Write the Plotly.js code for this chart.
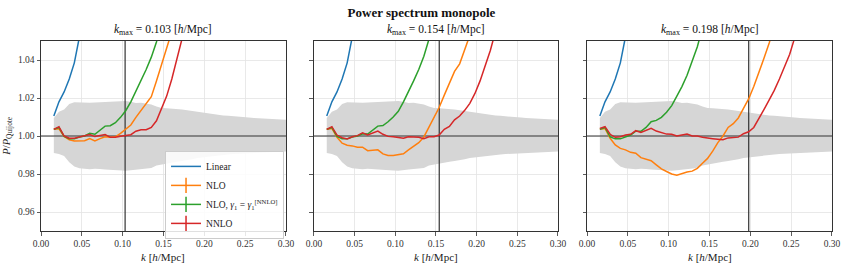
<!DOCTYPE html>
<html>
<head>
<meta charset="utf-8">
<script src="https://cdn.plot.ly/plotly-3.0.1.min.js"></script>
<style>html,body{margin:0;padding:0;background:#fff}#chart{width:843px;height:264px}</style>
</head>
<body>
<div id="chart"></div>
<script>
// k bins [h/Mpc]
const k = [0.0157,0.0220,0.0283,0.0346,0.0408,0.0471,0.0534,0.0597,0.0660,0.0723,0.0785,0.0848,0.0911,0.0974,0.1037,0.1100,0.1162,0.1225,0.1288,0.1351,0.1414,0.1476,0.1539,0.1602,0.1665,0.1728,0.1791,0.1853,0.1916,0.1979,0.2042,0.2105,0.2168,0.2231,0.2293,0.2356,0.2419,0.2482,0.2545,0.2608,0.2670,0.2733,0.2796,0.2859,0.2922,0.2985,0.3047];

// Quijote error band
const bandUpper = [1.0095,1.0128,1.0140,1.0168,1.0178,1.0176,1.0174,1.0175,1.0176,1.0177,1.0178,1.0180,1.0181,1.0183,1.0184,1.0180,1.0174,1.0175,1.0170,1.0166,1.0155,1.0148,1.0146,1.0145,1.0143,1.0140,1.0136,1.0132,1.0127,1.0122,1.0118,1.0115,1.0112,1.0108,1.0106,1.0103,1.0101,1.0099,1.0097,1.0095,1.0093,1.0092,1.0090,1.0089,1.0087,1.0085,1.0084];
const bandLower = [0.9910,0.9905,0.9895,0.9862,0.9840,0.9830,0.9826,0.9825,0.9828,0.9826,0.9824,0.9822,0.9820,0.9818,0.9817,0.9820,0.9824,0.9826,0.9828,0.9832,0.9845,0.9852,0.9855,0.9860,0.9864,0.9868,0.9872,0.9878,0.9884,0.9888,0.9892,0.9895,0.9898,0.9900,0.9903,0.9905,0.9907,0.9909,0.9911,0.9913,0.9914,0.9915,0.9916,0.9917,0.9918,0.9919,0.9920];

// Linear (same in all panels)
const linear = [1.0105,1.0180,1.0232,1.0300,1.0385,1.0510,1.0660];

// Panel 1: kmax = 0.103
const nlo1  = [1.0035,1.0038,0.9997,0.9980,0.9974,0.9975,0.9975,0.9986,0.9974,0.9986,0.9996,0.9993,0.9996,1.0014,1.0035,1.0058,1.0098,1.0133,1.0172,1.0207,1.0290,1.0380,1.0460,1.0550];
const gam1  = [1.0035,1.0045,0.9998,0.9985,0.9985,0.9995,1.0000,1.0014,1.0009,1.0032,1.0052,1.0054,1.0070,1.0098,1.0133,1.0180,1.0235,1.0290,1.0350,1.0415,1.0495,1.0600];
const nnlo1 = [1.0035,1.0049,1.0000,0.9988,0.9988,0.9995,1.0000,1.0008,0.9997,1.0003,1.0008,0.9993,0.9993,0.9999,1.0003,1.0007,1.0025,1.0033,1.0033,1.0045,1.0080,1.0140,1.0210,1.0300,1.0400,1.0510,1.0620];

// Panel 2: kmax = 0.154
const nlo2  = [1.0035,1.0040,0.9993,0.9962,0.9951,0.9948,0.9941,0.9941,0.9923,0.9927,0.9927,0.9906,0.9897,0.9897,0.9902,0.9906,0.9927,0.9948,0.9965,0.9995,1.0045,1.0098,1.0150,1.0215,1.0280,1.0340,1.0380,1.0450,1.0530,1.0620];
const gam2  = [1.0035,1.0045,0.9998,0.9985,0.9985,0.9995,1.0000,1.0012,1.0010,1.0030,1.0052,1.0055,1.0075,1.0100,1.0130,1.0180,1.0233,1.0290,1.0350,1.0420,1.0510,1.0620];
const nnlo2 = [1.0035,1.0049,1.0005,0.9991,0.9984,0.9996,1.0002,1.0017,1.0005,1.0014,1.0026,1.0009,0.9998,0.9996,0.9993,0.9988,0.9996,0.9996,0.9993,0.9986,0.9996,0.9996,1.0005,1.0035,1.0050,1.0085,1.0105,1.0135,1.0172,1.0224,1.0290,1.0370,1.0450,1.0550];

// Panel 3: kmax = 0.198
const nlo3  = [1.0035,1.0040,0.9988,0.9953,0.9935,0.9927,0.9914,0.9909,0.9886,0.9878,0.9870,0.9848,0.9827,0.9813,0.9800,0.9794,0.9804,0.9811,0.9815,0.9830,0.9857,0.9882,0.9920,0.9965,1.0000,1.0045,1.0065,1.0095,1.0145,1.0195,1.0260,1.0330,1.0410,1.0490,1.0580];
const gam3  = [1.0035,1.0045,0.9995,0.9985,0.9985,0.9997,1.0005,1.0025,1.0025,1.0045,1.0075,1.0082,1.0098,1.0125,1.0160,1.0210,1.0260,1.0320,1.0390,1.0470,1.0570];
const nnlo3 = [1.0040,1.0049,1.0009,0.9993,0.9996,1.0005,1.0009,1.0028,1.0019,1.0028,1.0040,1.0026,1.0017,1.0010,1.0009,1.0000,1.0005,1.0010,1.0000,1.0000,0.9993,0.9988,0.9986,0.9983,0.9980,0.9990,0.9992,0.9994,1.0012,1.0022,1.0045,1.0090,1.0140,1.0190,1.0240,1.0300,1.0370,1.0430,1.0520,1.0620];

const kmax = [0.103, 0.154, 0.198];
const kmaxLabels = ['0.103', '0.154', '0.198'];
const seriesNames = ['Linear', 'NLO', 'NLO, <i>γ</i><sub>1</sub> = <i>γ</i><sub>1</sub><sup>[NNLO]</sup>', 'NNLO'];
const colors = ['#1f77b4', '#ff7f0e', '#2ca02c', '#d62728'];
const panels = [[linear, nlo1, gam1, nnlo1], [linear, nlo2, gam2, nnlo2], [linear, nlo3, gam3, nnlo3]];
const xRange = [0, 0.3];
const yRange = [0.95, 1.05];

const FONT = 'Liberation Serif';
const traces = [];
const suffix = ['', '2', '3'];

panels.forEach((series, p) => {
  const xa = 'x' + suffix[p], ya = 'y' + suffix[p];
  // band
  traces.push({
    x: k.concat(k.slice().reverse()),
    y: bandUpper.concat(bandLower.slice().reverse()),
    xaxis: xa, yaxis: ya, mode: 'lines', fill: 'toself',
    fillcolor: '#d6d6d6', line: {width: 0, color: '#d6d6d6'},
    showlegend: false, hoverinfo: 'skip'
  });
  // reference lines
  traces.push({x: xRange, y: [1, 1], xaxis: xa, yaxis: ya, mode: 'lines',
    line: {color: '#333', width: 1.2}, showlegend: false, hoverinfo: 'skip'});
  traces.push({x: [kmax[p], kmax[p]], y: yRange, xaxis: xa, yaxis: ya, mode: 'lines',
    line: {color: '#333', width: 1.2}, showlegend: false, hoverinfo: 'skip'});
  series.forEach((ys, s) => {
    traces.push({
      x: k.slice(0, ys.length), y: ys, xaxis: xa, yaxis: ya, mode: 'lines',
      line: {color: colors[s], width: 1.5}, name: seriesNames[s], showlegend: false
    });
  });
});

// legend entries
seriesNames.forEach((n, s) => {
  traces.push({
    x: [null], y: [null], name: n, xaxis: 'x', yaxis: 'y',
    mode: s === 0 ? 'lines' : 'lines+markers',
    line: {color: colors[s], width: 1.5},
    marker: {symbol: 'line-ns-open', size: 11, color: colors[s], line: {color: colors[s], width: 1.5}},
    showlegend: true
  });
});

const domains = [[0, 0.3097], [0.3451, 0.6536], [0.6903, 1]];
const layout = {
  width: 843, height: 264,
  margin: {l: 41, r: 11, t: 41, b: 33},
  paper_bgcolor: '#fff', plot_bgcolor: '#fff',
  font: {family: FONT, color: '#222', size: 9},
  title: {text: '<b>Power spectrum monopole</b>', font: {family: FONT, size: 13, color: '#111'},
          x: 0.5, xref: 'container', y: 0.951, yref: 'container', yanchor: 'middle'},
  showlegend: true,
  legend: {x: 0.1568, y: 0.19, xanchor: 'left', yanchor: 'middle',
           bgcolor: 'rgba(255,255,255,0.85)', bordercolor: '#cccccc', borderwidth: 1,
           font: {family: FONT, size: 9.5, color: '#222'}, itemwidth: 30, tracegroupgap: 0},
  annotations: []
};

for (let p = 0; p < 3; p++) {
  layout['xaxis' + suffix[p]] = {
    domain: domains[p], range: xRange, anchor: 'y' + suffix[p],
    dtick: 0.05, tick0: 0, tickformat: '.2f',
    showgrid: true, gridcolor: '#e3e3e3', gridwidth: 0.8, zeroline: false,
    showline: true, linecolor: '#333', linewidth: 1, mirror: true,
    ticks: 'outside', ticklen: 3.5, tickwidth: 0.8, tickcolor: '#333',
    tickfont: {family: FONT, size: 9.5, color: '#333'}
  };
  layout['yaxis' + suffix[p]] = {
    domain: [0, 1], range: yRange, anchor: 'x' + suffix[p],
    dtick: 0.02, tick0: 0.96, tickformat: '.2f',
    showgrid: true, gridcolor: '#e3e3e3', gridwidth: 0.8, zeroline: false,
    showline: true, linecolor: '#333', linewidth: 1, mirror: true,
    ticks: 'outside', ticklen: 3.5, tickwidth: 0.8, tickcolor: '#333',
    showticklabels: p === 0,
    tickfont: {family: FONT, size: 9.5, color: '#333'}
  };
  layout.annotations.push({
    text: '<i>k</i><sub>max</sub> = ' + kmaxLabels[p] + ' [<i>h</i>/Mpc]',
    xref: 'x' + suffix[p] + ' domain', yref: 'paper', x: 0.5, y: 1.06,
    xanchor: 'center', yanchor: 'middle', showarrow: false,
    font: {family: FONT, size: 11.5, color: '#111'}
  });
  layout.annotations.push({
    text: '<i>k</i> [<i>h</i>/Mpc]',
    xref: 'x' + suffix[p] + ' domain', yref: 'paper', x: 0.5, y: -0.137,
    xanchor: 'center', yanchor: 'middle', showarrow: false,
    font: {family: FONT, size: 11, color: '#222'}
  });
}
layout.annotations.push({
  text: '<i>P</i>/<i>P</i><sub>Quijote</sub>',
  xref: 'paper', yref: 'paper', x: -0.0434, y: 0.5, textangle: -90,
  xanchor: 'center', yanchor: 'middle', showarrow: false,
  font: {family: FONT, size: 10.5, color: '#222'}
});

Plotly.newPlot('chart', traces, layout, {displayModeBar: false, staticPlot: true});
</script>
</body>
</html>
